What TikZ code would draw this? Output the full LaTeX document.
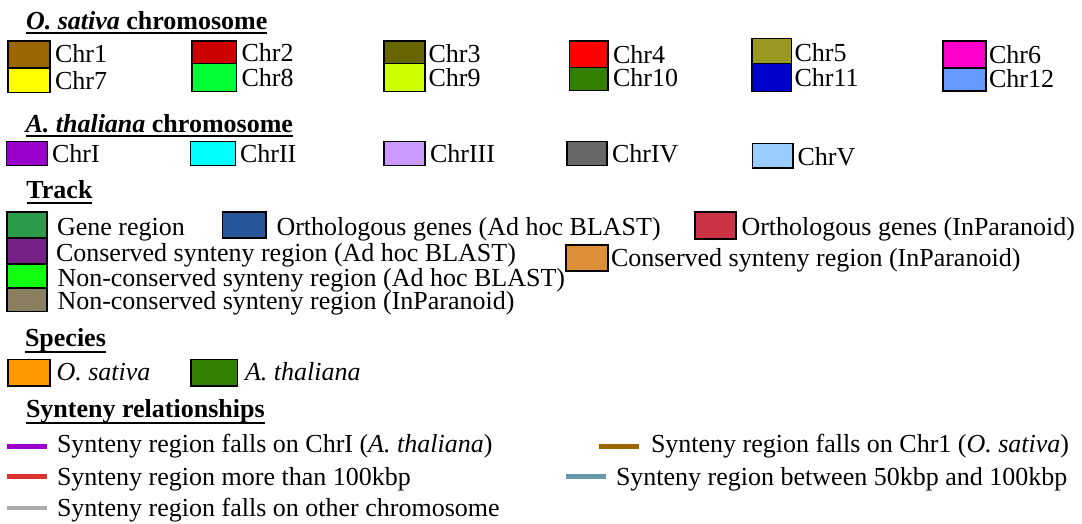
\documentclass[tikz,border=0pt]{standalone}
\usepackage{fontspec}
\setmainfont{Liberation Serif}
\usetikzlibrary{calc}

% chromosome colours (O. sativa)
\definecolor{osA}{HTML}{996600}
\definecolor{osB}{HTML}{CC0000}
\definecolor{osC}{HTML}{666600}
\definecolor{osD}{HTML}{FF0000}
\definecolor{osE}{HTML}{999922}
\definecolor{osF}{HTML}{FF00CC}
\definecolor{osG}{HTML}{FFFF00}
\definecolor{osH}{HTML}{00FF33}
\definecolor{osI}{HTML}{CCFF00}
\definecolor{osJ}{HTML}{337F00}
\definecolor{osK}{HTML}{0000CC}
\definecolor{osL}{HTML}{6699FF}
% chromosome colours (A. thaliana)
\definecolor{atA}{HTML}{9900CC}
\definecolor{atB}{HTML}{00FFFF}
\definecolor{atC}{HTML}{CC99FF}
\definecolor{atD}{HTML}{666666}
\definecolor{atE}{HTML}{99CCFF}
% track colours
\definecolor{trGene}{HTML}{2B9B4B}
\definecolor{trOrthB}{HTML}{275599}
\definecolor{trOrthP}{HTML}{CC3344}
\definecolor{trConsB}{HTML}{772288}
\definecolor{trConsP}{HTML}{DD8F38}
\definecolor{trNconsB}{HTML}{11FF11}
\definecolor{trNconsP}{HTML}{8A7F5F}
% species colours
\definecolor{spOs}{HTML}{FF9900}
\definecolor{spAt}{HTML}{337F00}
% synteny line colours
\definecolor{lnPurple}{HTML}{9900CC}
\definecolor{lnBrown}{HTML}{996600}
\definecolor{lnRed}{HTML}{DD3333}
\definecolor{lnBlue}{HTML}{6699AA}
\definecolor{lnGrey}{HTML}{AAAAAA}

\tikzset{
  swatchbox/.style={draw=black, line width=1.6pt, inner sep=0pt, outer sep=0pt},
  lbl/.style={anchor=base west, inner sep=0pt, outer sep=0pt,
              font=\fontsize{26}{30}\selectfont},
  heading/.style={lbl, font=\fontsize{26}{30}\selectfont\bfseries},
  uline/.style={line width=2pt},
  legline/.style={line width=4.2pt}
}

% colour swatch given by its corners: name, x1, y1, x2, y2, colour
\newcommand\legbox[6]{%
  \node[swatchbox, fill=#6,
        minimum width={(#4-#2)*1pt}, minimum height={(#5-#3)*1pt}]
       (#1) at ({(#2+#4)/2},{(#3+#5)/2}) {};}

\begin{document}
\begin{tikzpicture}[x=1pt, y=-1pt]
\fill[white] (0,0) rectangle (1082,524);
\useasboundingbox (0,0) rectangle (1082,524);

% ---------------- O. sativa chromosomes ----------------
\node[heading] (hOs) at (26,29.5) {\textit{O. sativa} chromosome};
\draw[uline] ($(hOs.base west)+(0,3.5)$) -- ($(hOs.base east)+(0,3.5)$);

\legbox{bChrA}{8}{41}{50}{68}{osA}
\legbox{bChrG}{8}{68}{50}{92.5}{osG}
\node[lbl] (tChrA) at (55,63) {Chr1};
\node[lbl] (tChrG) at (55,90) {Chr7};

\legbox{bChrB}{192}{41}{236.5}{63.5}{osB}
\legbox{bChrH}{192}{63.5}{236.5}{91.5}{osH}
\node[lbl] (tChrB) at (241.5,62) {Chr2};
\node[lbl] (tChrH) at (241.5,87) {Chr8};

\legbox{bChrC}{384}{41}{425}{63.5}{osC}
\legbox{bChrI}{384}{63.5}{425}{91.5}{osI}
\node[lbl] (tChrC) at (428.5,62.5) {Chr3};
\node[lbl] (tChrI) at (428.5,87) {Chr9};

\legbox{bChrD}{569.5}{41}{608}{67.5}{osD}
\legbox{bChrJ}{569.5}{67.5}{608}{90.5}{osJ}
\node[lbl] (tChrD) at (613,64) {Chr4};
\node[lbl] (tChrJ) at (613,87) {Chr10};

\legbox{bChrE}{752}{38.5}{791.5}{63.5}{osE}
\legbox{bChrK}{752}{63.5}{791.5}{91.5}{osK}
\node[lbl] (tChrE) at (794.5,61.5) {Chr5};
\node[lbl] (tChrK) at (794.5,87) {Chr11};

\legbox{bChrF}{943}{41}{986}{68}{osF}
\legbox{bChrL}{943}{68}{986}{91}{osL}
\node[lbl] (tChrF) at (989,64) {Chr6};
\node[lbl] (tChrL) at (989,88) {Chr12};

% ---------------- A. thaliana chromosomes ----------------
\node[heading] (hAt) at (25.5,132.5) {\textit{A. thaliana} chromosome};
\draw[uline] ($(hAt.base west)+(0,3.5)$) -- ($(hAt.base east)+(0,3.5)$);

\legbox{bAtA}{6.5}{141.5}{47.5}{165.5}{atA}
\node[lbl] (tAtA) at (52,163) {ChrI};
\legbox{bAtB}{190.5}{141.5}{235.5}{165.5}{atB}
\node[lbl] (tAtB) at (240,163) {ChrII};
\legbox{bAtC}{384}{141.5}{425}{165.5}{atC}
\node[lbl] (tAtC) at (430,163) {ChrIII};
\legbox{bAtD}{567}{141.5}{607}{165.5}{atD}
\node[lbl] (tAtD) at (612,163) {ChrIV};
\legbox{bAtE}{752.5}{143.5}{793}{168}{atE}
\node[lbl] (tAtE) at (797.5,166) {ChrV};

% ---------------- Track ----------------
\node[heading] (hTr) at (26.5,198.5) {Track};
\draw[uline] ($(hTr.base west)+(0,4.2)$) -- ($(hTr.base east)+(0,4.2)$);

\legbox{bGene}{7}{212}{47}{238}{trGene}
\legbox{bConsB}{7}{238}{47}{264}{trConsB}
\legbox{bNconsB}{7}{264}{47}{288}{trNconsB}
\legbox{bNconsP}{7}{288}{47}{311.5}{trNconsP}
\node[lbl] (tGene) at (57,235.5) {Gene region};
\node[lbl] (tConsB) at (56,261.5) {Conserved synteny region (Ad hoc BLAST)};
\node[lbl] (tNconsB) at (57.5,286.5) {Non-conserved synteny region (Ad hoc BLAST)};
\node[lbl] (tNconsP) at (57.5,309.5) {Non-conserved synteny region (InParanoid)};

\legbox{bOrthB}{222.5}{212}{266}{238}{trOrthB}
\node[lbl] (tOrthB) at (276.5,235.5) {Orthologous genes (Ad hoc BLAST)};
\legbox{bOrthP}{695}{212}{736}{239}{trOrthP}
\node[lbl] (tOrthP) at (741.5,235.5) {Orthologous genes (InParanoid)};
\legbox{bConsP}{566}{245}{608}{271}{trConsP}
\node[lbl] (tConsP) at (611,266) {Conserved synteny region (InParanoid)};

% ---------------- Species ----------------
\node[heading] (hSp) at (25,346.5) {Species};
\draw[uline] ($(hSp.base west)+(0,5.6)$) -- ($(hSp.base east)+(0,5.6)$);

\legbox{bSpOs}{8}{359.5}{50}{386}{spOs}
\node[lbl] (tSpOs) at (56.5,380.5) {\textit{O. sativa}};
\legbox{bSpAt}{191}{359.5}{237.5}{386}{spAt}
\node[lbl] (tSpAt) at (245,380.5) {\textit{A. thaliana}};

% ---------------- Synteny relationships ----------------
\node[heading] (hSy) at (26,417) {Synteny relationships};
\draw[uline] ($(hSy.base west)+(0,6.3)$) -- ($(hSy.base east)+(0,6.3)$);

\coordinate (lPa) at (7,446.5);   \coordinate (lPb) at (47,446.5);
\coordinate (lRa) at (7,476.5);   \coordinate (lRb) at (47,476.5);
\coordinate (lGa) at (7,508);     \coordinate (lGb) at (47,508);
\coordinate (lBra) at (599,446.5); \coordinate (lBrb) at (639,446.5);
\coordinate (lBla) at (566,476.5); \coordinate (lBlb) at (606,476.5);

\draw[legline, lnPurple] (lPa) -- (lPb);
\draw[legline, lnRed] (lRa) -- (lRb);
\draw[legline, lnGrey] (lGa) -- (lGb);
\draw[legline, lnBrown] (lBra) -- (lBrb);
\draw[legline, lnBlue] (lBla) -- (lBlb);

\node[lbl] (tSyP) at (57,452.5) {Synteny region falls on ChrI (\textit{A. thaliana})};
\node[lbl] (tSyR) at (57,485) {Synteny region more than 100kbp};
\node[lbl] (tSyG) at (57,516.5) {Synteny region falls on other chromosome};
\node[lbl] (tSyBr) at (651,452.5) {Synteny region falls on Chr1 (\textit{O. sativa})};
\node[lbl] (tSyBl) at (616,485) {Synteny region between 50kbp and 100kbp};
\end{tikzpicture}
\end{document}
